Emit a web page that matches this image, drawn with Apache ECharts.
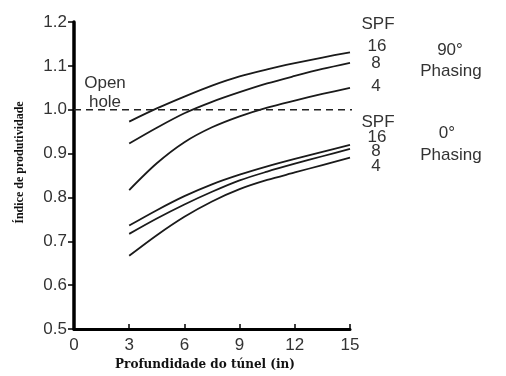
<!DOCTYPE html>
<html><head><meta charset="utf-8">
<script src="https://cdn.jsdelivr.net/npm/echarts@6/dist/echarts.min.js"></script>
<style>html,body{margin:0;padding:0;background:#fff}#c{width:506px;height:376px}</style>
</head><body><div id="c"></div>
<script>
var depth = [3, 4.5, 6, 7.5, 9, 10.5, 12, 13.5, 15];
var p90_spf16 = [0.973, 1.003, 1.030, 1.055, 1.076, 1.092, 1.106, 1.119, 1.131];
var p90_spf8  = [0.923, 0.959, 0.992, 1.018, 1.040, 1.060, 1.077, 1.093, 1.107];
var p90_spf4  = [0.817, 0.878, 0.926, 0.960, 0.985, 1.005, 1.021, 1.036, 1.050];
var p0_spf16  = [0.736, 0.771, 0.803, 0.830, 0.852, 0.871, 0.888, 0.904, 0.920];
var p0_spf8   = [0.717, 0.752, 0.784, 0.813, 0.839, 0.859, 0.877, 0.894, 0.911];
var p0_spf4   = [0.667, 0.714, 0.756, 0.791, 0.819, 0.840, 0.857, 0.874, 0.891];
var openHole = [[0, 1.0], [16.25, 1.0]];
var xTicks = [0, 3, 6, 9, 12, 15];
var yTicks = [0.5, 0.6, 0.7, 0.8, 0.9, 1.0, 1.1, 1.2];

function pairs(ys){ return depth.map(function(x,i){ return [x, ys[i]]; }); }
var curveStyle = {color:'#1a1a1a', width:1.8};
function curve(name, ys){
  return {name:name, type:'line', data:pairs(ys), smooth:0.3, symbol:'none', lineStyle:curveStyle, silent:true};
}
var sans = '"Liberation Sans", Arial, sans-serif';
var serif = '"Liberation Serif", "DejaVu Serif", serif';
var tcol = '#333';
function txt(s, x, y){
  return {type:'text', x:x, y:y, style:{text:s, font:'17px ' + sans, fill:tcol, textAlign:'center', textVerticalAlign:'middle'}};
}
var chart = echarts.init(document.getElementById('c'), null, {renderer:'canvas'});
chart.setOption({
  animation:false,
  backgroundColor:'#fff',
  grid:{left:74, right:156, top:22, bottom:46},
  xAxis:{type:'value', min:0, max:15, interval:3,
    name:'Profundidade do túnel (in)', nameLocation:'middle', nameGap:19,
    nameTextStyle:{fontFamily:'"DejaVu Serif", serif', fontWeight:'bold', fontSize:12, color:'#111', padding:[0,14,0,0]},
    axisLine:{show:true, lineStyle:{color:'#000', width:3}},
    axisTick:{show:true, inside:true, length:5, lineStyle:{color:'#000', width:1.5}},
    axisLabel:{margin:8, fontFamily:sans, fontSize:17, color:tcol},
    splitLine:{show:false}},
  yAxis:{type:'value', min:0.5, max:1.2, interval:0.1,
    name:'Índice de produtividade', nameLocation:'middle', nameGap:48,
    nameTextStyle:{fontFamily:serif, fontWeight:'bold', fontSize:12, color:'#111', padding:[0,0,0,26]},
    axisLine:{show:true, lineStyle:{color:'#000', width:3.5}},
    axisTick:{show:true, inside:false, length:6, lineStyle:{color:'#000', width:1.5}},
    axisLabel:{margin:7, fontFamily:sans, fontSize:17, color:tcol, formatter:function(v){return v.toFixed(1);}},
    splitLine:{show:false}},
  series:[
    curve('90 SPF16', p90_spf16), curve('90 SPF8', p90_spf8), curve('90 SPF4', p90_spf4),
    curve('0 SPF16', p0_spf16), curve('0 SPF8', p0_spf8), curve('0 SPF4', p0_spf4),
    {name:'Open hole', type:'line', data:openHole, symbol:'none', clip:false, silent:true,
     lineStyle:{color:'#222', width:1.3, type:[7,5]}}
  ],
  graphic:[
    txt('Open', 105, 83), txt('hole', 105, 102),
    txt('SPF', 378, 24), txt('16', 377, 46), txt('8', 376, 63), txt('4', 376, 86),
    txt('90°', 450, 50), txt('Phasing', 451, 71),
    txt('SPF', 378, 122), txt('16', 377, 137), txt('8', 376, 151), txt('4', 376, 166),
    txt('0°', 447, 133), txt('Phasing', 451, 155)
  ]
});
</script></body></html>
